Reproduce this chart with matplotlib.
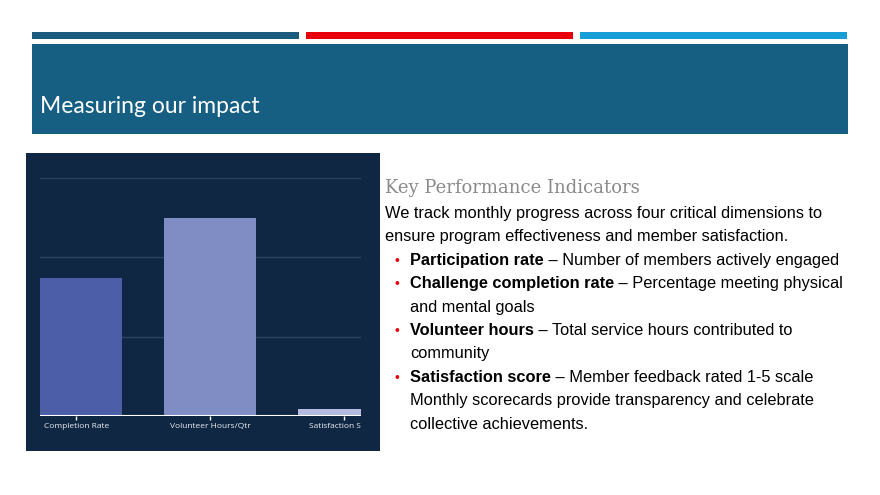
import matplotlib.pyplot as plt
from matplotlib.patches import Rectangle
from matplotlib.transforms import Bbox, TransformedBbox

# chart data
categories = ['Completion Rate', 'Volunteer Hours/Qtr', 'Satisfaction Score']
values = [87, 125, 4.4]
bar_colors = ['#4d5ea8', '#7f8dc4', '#b3bbe0']
grid_levels = [50, 100, 150]

# slide text
title = 'Measuring our impact'
heading = 'Key Performance Indicators'
intro = ['We track monthly progress across four critical dimensions to',
         'ensure program effectiveness and member satisfaction.']
bullets = [('Participation rate', ' \u2013 Number of members actively engaged', []),
           ('Challenge completion rate', ' \u2013 Percentage meeting physical', ['and mental goals']),
           ('Volunteer hours', ' \u2013 Total service hours contributed to', ['community']),
           ('Satisfaction score', ' \u2013 Member feedback rated 1-5 scale',
            ['Monthly scorecards provide transparency and celebrate',
             'collective achievements.'])]

W, H = 880, 495


def rect(x, y, w, h):
    # pixel box (top-left origin) -> figure fraction
    return [x / W, 1 - (y + h) / H, w / W, h / H]


def box(x, y, w, h, c):
    l, b, ww, hh = rect(x, y, w, h)
    fig.add_artist(Rectangle((l, b), ww, hh, transform=fig.transFigure,
                             color=c, lw=0, zorder=-1))


def fy(y):
    return 1 - y / H


fig = plt.figure(figsize=(8.8, 4.95), dpi=100)
fig.patch.set_facecolor('white')

# header stripes and banner
for x0, c in [(32, '#1b5b7e'), (306, '#e8000b'), (580, '#169fd6')]:
    box(x0, 32, 267, 7, c)
box(32, 44, 816, 90, '#165f82')
fig.text(40 / W, fy(113), title, color='white', fontsize=16.5, family='Lato',
         va='baseline', ha='left')

# chart panel
box(26, 153, 354, 298, '#0f2742')

ax = fig.add_axes(rect(40, 178, 321, 238))
ax.set_facecolor('#0f2742')
xs = list(range(len(categories)))
ax.bar(xs, values, width=0.69, color=bar_colors, zorder=3)
for g in grid_levels:
    ax.axhline(g, color='#2a4563', lw=1, zorder=1)
ax.axhline(0, color='white', lw=1.5, zorder=4)
ax.set_xlim(-0.27, 2.127)
ax.set_ylim(0, 150)
ax.set_yticks([])
for s in ax.spines.values():
    s.set_visible(False)
ax.set_xticks(xs, categories)
ax.tick_params(axis='x', colors='white', length=3, width=1, pad=2,
               labelsize=6, labelcolor='#eef0f5')
clip = TransformedBbox(Bbox([[0, -0.3], [1, 1]]), ax.transAxes)
for lab in ax.get_xticklabels():
    lab.set_family('Open Sans')
    lab.set_clip_box(clip)
    lab.set_clip_on(True)

# right text block
fig.text(385 / W, fy(193), heading, color='#8a8a8a', fontsize=13,
         family='DejaVu Serif', fontweight='light', va='baseline')

body = dict(fontsize=11.8, family='Liberation Sans', color='black', va='baseline')
line_h = 23.4
y = 218
for line in intro:
    fig.text(385 / W, fy(y), line, **body)
    y += line_h

renderer = fig.canvas.get_renderer()
for bold, rest, extra in bullets:
    fig.text(394 / W, fy(y), '\u2022', color='#e8000b', fontsize=10,
             family='Liberation Sans', va='baseline')
    t = fig.text(410 / W, fy(y), bold, fontweight='bold', **body)
    x_end = t.get_window_extent(renderer).x1
    fig.text(x_end / W, fy(y), rest, **body)
    y += line_h
    for line in extra:
        fig.text(410 / W, fy(y), line, **body)
        y += line_h

fig.savefig('out.png', dpi=100)
